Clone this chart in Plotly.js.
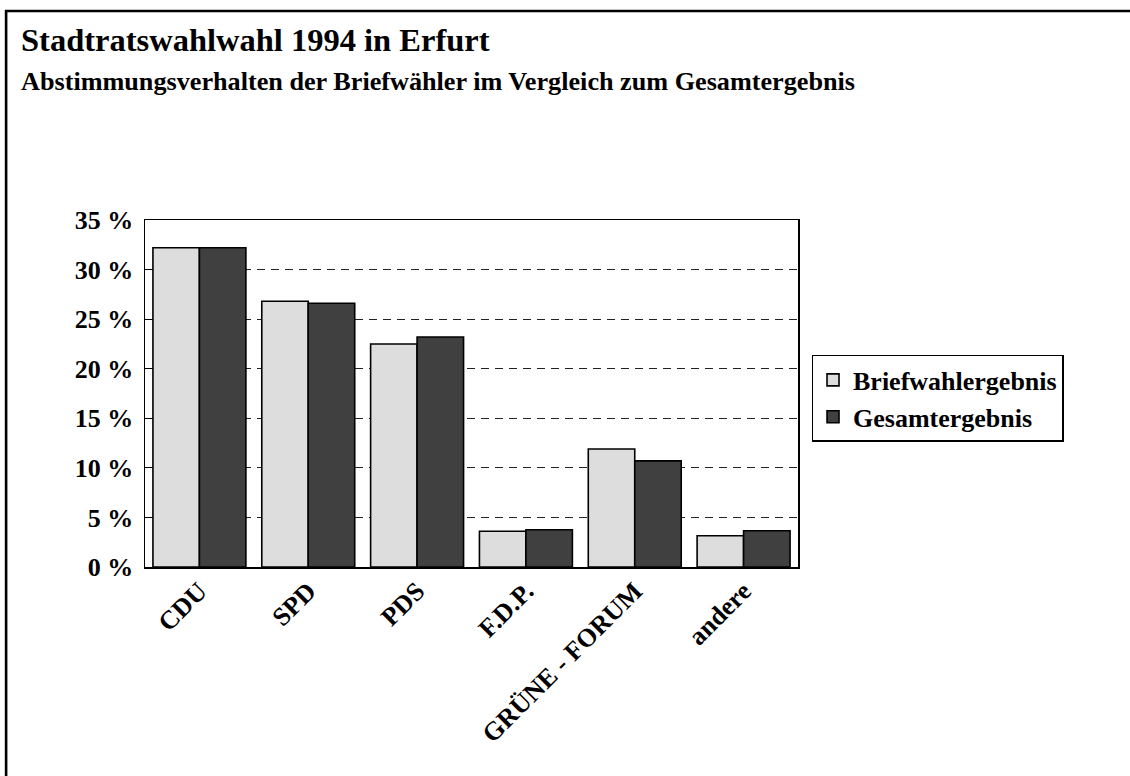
<!DOCTYPE html>
<html>
<head>
<meta charset="utf-8">
<script src="https://cdn.plot.ly/plotly-3.0.1.min.js"></script>
<style>
  html, body { margin: 0; padding: 0; background: #fff; }
  #chart { width: 1130px; height: 776px; }
</style>
</head>
<body>
<div id="chart"></div>
<script>
const parteien = ["CDU", "SPD", "PDS", "F.D.P.", "GRÜNE - FORUM", "andere"];
const briefwahl = [32.2, 26.8, 22.5, 3.6, 11.9, 3.15];
const gesamt = [32.2, 26.6, 23.2, 3.75, 10.7, 3.65];
const yTicks = [0, 5, 10, 15, 20, 25, 30, 35];

const SERIF = "Liberation Serif, Times New Roman, serif";

function makePlot() {
  const traces = [
    {
      type: "bar",
      name: "<b>Briefwahlergebnis</b>",
      x: parteien,
      y: briefwahl,
      marker: { color: "#dddddd", line: { color: "#000", width: 1.6 } }
    },
    {
      type: "bar",
      name: "<b>Gesamtergebnis</b>",
      x: parteien,
      y: gesamt,
      marker: { color: "#404040", line: { color: "#000", width: 1.6 } }
    }
  ];

  const layout = {
    width: 1130,
    height: 776,
    margin: { l: 145, r: 332, t: 220, b: 209 },
    paper_bgcolor: "#fff",
    plot_bgcolor: "#fff",
    font: { family: SERIF, color: "#000", size: 26 },
    barmode: "group",
    bargap: 0.146,
    bargroupgap: 0,
    showlegend: true,
    legend: {
      x: 1.0207, xanchor: "left",
      y: 0.611, yanchor: "top",
      bordercolor: "#000", borderwidth: 1.5,
      bgcolor: "#fff",
      font: { family: SERIF, size: 26 },
      itemwidth: 30,
      tracegroupgap: 0
    },
    xaxis: {
      type: "category",
      tickangle: -45,
      tickfont: { family: SERIF, size: 26 },
      tickprefix: "<b>", ticksuffix: "</b>",
      showline: true, linecolor: "#000", linewidth: 1.5,
      mirror: true,
      ticks: "",
      showgrid: false,
      zeroline: false,
      ticklabelstandoff: -3
    },
    yaxis: {
      range: [0, 35],
      tickvals: yTicks,
      ticktext: yTicks.map(v => "<b>" + v + " %</b>"),
      tickfont: { family: SERIF, size: 26 },
      ticks: "inside", ticklen: 8, tickcolor: "#000", tickwidth: 1.2,
      showline: true, linecolor: "#000", linewidth: 1.5,
      mirror: true,
      showgrid: true, gridcolor: "#222", gridwidth: 1.2, griddash: "8px,6px",
      zeroline: false,
      ticklabelstandoff: 5
    },
    annotations: [
      {
        xref: "paper", yref: "paper",
        x: -0.1925, y: 1.519,
        xanchor: "left", yanchor: "middle",
        text: "<b>Stadtratswahlwahl 1994 in Erfurt</b>",
        showarrow: false,
        font: { family: SERIF, size: 32.5, color: "#000" }
      },
      {
        xref: "paper", yref: "paper",
        x: -0.1925, y: 1.398,
        xanchor: "left", yanchor: "middle",
        text: "<b>Abstimmungsverhalten der Briefwähler im Vergleich zum Gesamtergebnis</b>",
        showarrow: false,
        font: { family: SERIF, size: 26.2, color: "#000" }
      }
    ],
    shapes: [
      {
        type: "path", xref: "paper", yref: "paper",
        path: "M -0.2127,-0.8 L -0.2127,1.6023 L 1.7,1.6023",
        line: { color: "#000", width: 2.6 }
      }
    ]
  };

  Plotly.newPlot("chart", traces, layout, { displayModeBar: false, staticPlot: true });
}

document.addEventListener("DOMContentLoaded", makePlot);
</script>
</body>
</html>
